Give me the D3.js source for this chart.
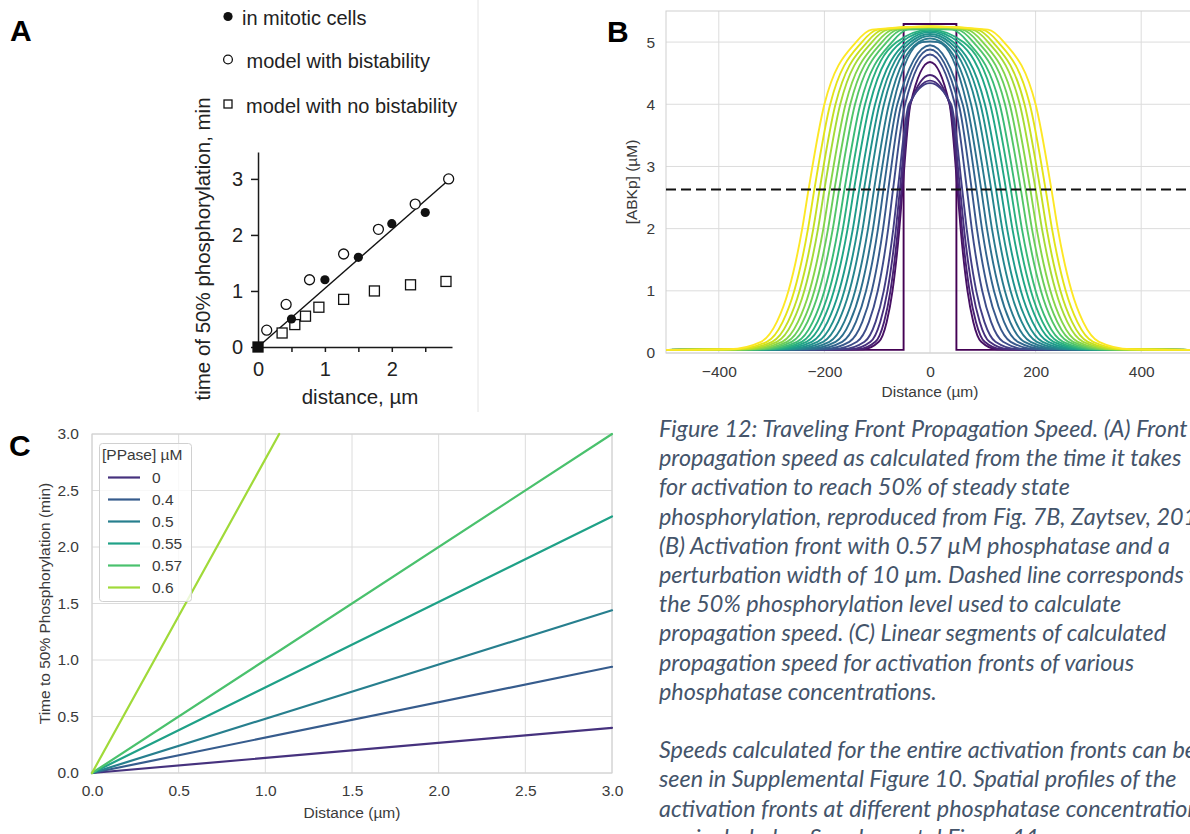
<!DOCTYPE html>
<html lang="en">
<head>
<meta charset="UTF-8" />
<title>Figure 12 - Traveling Front Propagation Speed</title>
<script src="https://d3js.org/d3.v7.min.js"></script>
<style>
  body { margin: 0; background: #fff; }
  svg { display: block; }
</style>
</head>
<body>
<svg id="fig" width="1190" height="834"></svg>
<script>
const mitoticX = [0, 0.5, 1.0, 1.5, 2.0, 2.5];
const mitoticY = [0, 0.5, 1.2, 1.6, 2.2, 2.4];
const bistX = [0.13, 0.42, 0.77, 1.28, 1.8, 2.35, 2.85];
const bistY = [0.3, 0.76, 1.2, 1.66, 2.1, 2.55, 3.0];
const noBistX = [0, 0.36, 0.55, 0.71, 0.91, 1.28, 1.74, 2.28, 2.81];
const noBistY = [0, 0.25, 0.4, 0.55, 0.71, 0.85, 1.0, 1.11, 1.17];
const fitLine = [[0, 0], [2.85, 2.98]];
const aTicksX = [0, 0.5, 1, 1.5, 2, 2.5];
const aTicksY = [0, 1, 2, 3];

// ---------- panel B data ----------
// half-max crossing (µm) and peak height (µM) of each snapshot, inner (purple) to outer (yellow)
const frontCross = [52, 54, 57, 61, 70, 79, 88, 97, 106, 116, 125, 134, 144, 153, 162, 172, 181, 190, 200, 209, 219, 230];
const frontPeak = [4.68, 4.47, 4.38, 4.34, 4.80, 4.88, 4.95, 5.01, 5.06, 5.10, 5.13, 5.16, 5.18, 5.20, 5.21, 5.22, 5.23, 5.24, 5.24, 5.25, 5.25, 5.25];
// early fronts are steeper than the settled one
const frontWidth = [0.5, 0.55, 0.62, 0.7, 0.76, 0.82, 0.87, 0.91, 0.94, 0.96, 0.98, 1, 1, 1, 1, 1, 1, 1, 1, 1, 1, 1];
// shape of the settled front: offset from crossing -> level
const profileOffset = [-120, -90, -30, 0, 12, 38, 60, 90, 150];
const profileLevel = [5.2, 5.0, 4.0, 2.63, 2.0, 1.0, 0.5, 0.18, 0.06];
const baseLevel = 0.05;
const pulseHalfWidth = 50;
const pulseHeight = 5.29;
const halfLevel = 2.63;
const bTicksX = [-400, -200, 0, 200, 400];
const bTicksY = [0, 1, 2, 3, 4, 5];

// ---------- panel C data ----------
const ppaseLabels = ["0", "0.4", "0.5", "0.55", "0.57", "0.6"];
const lineEndX = [3.0, 3.0, 3.0, 3.0, 3.0, 1.08];
const lineEndY = [0.40, 0.94, 1.44, 2.27, 3.0, 3.0];
const cTicks = [0, 0.5, 1, 1.5, 2, 2.5, 3];

const captionLines = [
  "Figure 12: Traveling Front Propagation Speed. (A) Front",
  "propagation speed as calculated from the time it takes",
  "for activation to reach 50% of steady state",
  "phosphorylation, reproduced from Fig. 7B, Zaytsev, 2016.",
  "(B) Activation front with 0.57 \u00b5M phosphatase and a",
  "perturbation width of 10 \u00b5m. Dashed line corresponds to",
  "the 50% phosphorylation level used to calculate",
  "propagation speed. (C) Linear segments of calculated",
  "propagation speed for activation fronts of various",
  "phosphatase concentrations.",
  "",
  "Speeds calculated for the entire activation fronts can be",
  "seen in Supplemental Figure 10. Spatial profiles of the",
  "activation fronts at different phosphatase concentrations",
  "are included as Supplemental Figure 11."
];

const svg = d3.select("#fig");
svg.append("rect").attr("width", 1190).attr("height", 834).attr("fill", "#fff");

const arial = "'Liberation Sans', Arial, sans-serif";
const seaText = "#3a3a3a";
const gridCol = "#dcdcdc";

// =================== PANEL A ===================
const aX = d3.scaleLinear().domain([-0.075, 2.9]).range([253, 452]);
const aY = d3.scaleLinear().domain([0, 3.48]).range([347, 152]);
const gA = svg.append("g").attr("font-family", arial);

gA.append("line").attr("x1", 478).attr("x2", 478).attr("y1", 0).attr("y2", 412)
  .attr("stroke", "#e4e4e4");

function styleAxisA(g) {
  g.attr("font-family", null).attr("font-size", null);
  g.select(".domain").attr("stroke", "#1a1a1a").attr("stroke-width", 1.5);
  g.selectAll(".tick line").attr("stroke", "#1a1a1a").attr("stroke-width", 1.5);
  g.selectAll(".tick text").attr("font-size", 20).attr("fill", "#222");
}

gA.append("g").attr("transform", `translate(0,${aY(0)})`)
  .call(d3.axisBottom(aX).tickValues(aTicksX).tickSize(5).tickSizeOuter(0).tickPadding(10)
    .tickFormat(d => Number.isInteger(d) ? d : ""))
  .call(styleAxisA);

gA.append("g").attr("transform", `translate(${aX(0)},0)`)
  .call(d3.axisLeft(aY).tickValues(aTicksY).tickSize(7).tickSizeOuter(0).tickPadding(8)
    .tickFormat(d3.format("d")))
  .call(styleAxisA);

gA.append("path").datum(fitLine)
  .attr("d", d3.line().x(d => aX(d[0])).y(d => aY(d[1])))
  .attr("stroke", "#111").attr("stroke-width", 1.4).attr("fill", "none");

gA.selectAll(".sq").data(d3.zip(noBistX, noBistY)).join("rect")
  .attr("x", d => aX(d[0]) - 5).attr("y", d => aY(d[1]) - 5)
  .attr("width", 10).attr("height", 10)
  .attr("fill", d => d[0] === 0 ? "#111" : "#fff")
  .attr("stroke", "#111").attr("stroke-width", 1.3);

gA.selectAll(".oc").data(d3.zip(bistX, bistY)).join("circle")
  .attr("cx", d => aX(d[0])).attr("cy", d => aY(d[1])).attr("r", 5)
  .attr("fill", "#fff").attr("stroke", "#111").attr("stroke-width", 1.3);

gA.selectAll(".fc").data(d3.zip(mitoticX, mitoticY)).join("circle")
  .attr("cx", d => aX(d[0])).attr("cy", d => aY(d[1])).attr("r", 4.6)
  .attr("fill", "#111");

// legend A
gA.append("circle").attr("cx", 228).attr("cy", 16.5).attr("r", 4.6).attr("fill", "#111");
gA.append("circle").attr("cx", 228).attr("cy", 59.5).attr("r", 4.4)
  .attr("fill", "#fff").attr("stroke", "#111").attr("stroke-width", 1.3);
gA.append("rect").attr("x", 224).attr("y", 100).attr("width", 8).attr("height", 8)
  .attr("fill", "#fff").attr("stroke", "#111").attr("stroke-width", 1.3);
[["in mitotic cells", 242, 25], ["model with bistability", 246.5, 68], ["model with no bistability", 246, 112.5]]
  .forEach(([t, x, y]) => gA.append("text").attr("x", x).attr("y", y)
    .attr("font-size", 20).attr("fill", "#222").text(t));

gA.append("text").attr("x", 360).attr("y", 404).attr("text-anchor", "middle")
  .attr("font-size", 20.5).attr("fill", "#222").text("distance, \u00b5m");
gA.append("text").attr("transform", "translate(210,249) rotate(-90)")
  .attr("text-anchor", "middle").attr("font-size", 20.5).attr("fill", "#222")
  .text("time of 50% phosphorylation, min");

// =================== PANEL B ===================
const bX = d3.scaleLinear().domain([-500, 500]).range([666, 1194]);
const bY = d3.scaleLinear().domain([0, 5.5]).range([353, 11]);
const gB = svg.append("g").attr("font-family", arial);

gB.selectAll(".vg").data(bTicksX).join("line")
  .attr("x1", d => bX(d)).attr("x2", d => bX(d)).attr("y1", bY(5.5)).attr("y2", bY(0))
  .attr("stroke", gridCol);
gB.selectAll(".hg").data(bTicksY).join("line")
  .attr("x1", bX(-500)).attr("x2", bX(500)).attr("y1", d => bY(d)).attr("y2", d => bY(d))
  .attr("stroke", gridCol);
gB.append("rect").attr("x", bX(-500)).attr("y", bY(5.5))
  .attr("width", bX(500) - bX(-500)).attr("height", bY(0) - bY(5.5))
  .attr("fill", "none").attr("stroke", "#d0d0d0");

function styleSea(g, size) {
  g.attr("font-family", null).attr("font-size", null);
  g.select(".domain").remove();
  g.selectAll(".tick line").remove();
  g.selectAll(".tick text").attr("font-size", size).attr("fill", seaText);
}

gB.append("g").attr("transform", `translate(0,${bY(0)})`)
  .call(d3.axisBottom(bX).tickValues(bTicksX).tickSize(0).tickPadding(13)
    .tickFormat(d3.format("d")))
  .call(g => styleSea(g, 15.5));
gB.append("g").attr("transform", `translate(${bX(-500)},0)`)
  .call(d3.axisLeft(bY).tickValues(bTicksY).tickSize(0).tickPadding(11)
    .tickFormat(d3.format("d")))
  .call(g => styleSea(g, 15.5));

// snapshot curves
const nCurves = frontCross.length + 1;
const bColor = i => d3.interpolateViridis(i / (nCurves - 1));
const pulse = [[-500, baseLevel], [-pulseHalfWidth, baseLevel], [-pulseHalfWidth, pulseHeight],
  [pulseHalfWidth, pulseHeight], [pulseHalfWidth, baseLevel], [500, baseLevel]];

const curves = frontCross.map((c, i) => {
  const right = [];
  profileOffset.forEach((o, k) => {
    const x = c + o * frontWidth[i];
    if (profileLevel[k] < frontPeak[i] - 0.005 && x > 0) right.push([x, profileLevel[k]]);
  });
  const left = right.map(p => [-p[0], p[1]]).reverse();
  return [[-500, baseLevel], ...left, [0, frontPeak[i]], ...right, [500, baseLevel]];
});

gB.append("clipPath").attr("id", "bclip").append("rect")
  .attr("x", bX(-500)).attr("y", bY(5.5)).attr("width", bX(500) - bX(-500)).attr("height", bY(0) - bY(5.5) + 2);

const gCurves = gB.append("g").attr("clip-path", "url(#bclip)");
gCurves.append("path").datum(pulse)
  .attr("d", d3.line().x(d => bX(d[0])).y(d => bY(d[1])))
  .attr("fill", "none").attr("stroke", bColor(0)).attr("stroke-width", 1.9);

const smooth = d3.line().x(d => bX(d[0])).y(d => bY(d[1])).curve(d3.curveMonotoneX);
gCurves.selectAll(".front").data(curves).join("path")
  .attr("d", smooth).attr("fill", "none")
  .attr("stroke", (d, i) => bColor(i + 1)).attr("stroke-width", 1.9);

gCurves.append("line").attr("x1", bX(-500)).attr("x2", bX(500))
  .attr("y1", bY(halfLevel)).attr("y2", bY(halfLevel))
  .attr("stroke", "#111").attr("stroke-width", 2).attr("stroke-dasharray", "10,5");

gB.append("text").attr("x", bX(0)).attr("y", 397).attr("text-anchor", "middle")
  .attr("font-size", 15.5).attr("fill", seaText).text("Distance (\u00b5m)");
gB.append("text").attr("transform", `translate(637,${(bY(0) + bY(5.5)) / 2}) rotate(-90)`)
  .attr("text-anchor", "middle").attr("font-size", 15.5).attr("fill", seaText).text("[ABKp] (\u00b5M)");

// =================== PANEL C ===================
const cX = d3.scaleLinear().domain([0, 3]).range([92, 612]);
const cY = d3.scaleLinear().domain([0, 3]).range([773, 434]);
const gC = svg.append("g").attr("font-family", arial);
const cColor = i => d3.interpolateViridis((i + 1) / (ppaseLabels.length + 1));

gC.selectAll(".vg").data(cTicks).join("line")
  .attr("x1", d => cX(d)).attr("x2", d => cX(d)).attr("y1", cY(3)).attr("y2", cY(0))
  .attr("stroke", gridCol);
gC.selectAll(".hg").data(cTicks).join("line")
  .attr("x1", cX(0)).attr("x2", cX(3)).attr("y1", d => cY(d)).attr("y2", d => cY(d))
  .attr("stroke", gridCol);
gC.append("rect").attr("x", cX(0)).attr("y", cY(3))
  .attr("width", cX(3) - cX(0)).attr("height", cY(0) - cY(3))
  .attr("fill", "none").attr("stroke", "#d0d0d0");

gC.append("g").attr("transform", `translate(0,${cY(0)})`)
  .call(d3.axisBottom(cX).tickValues(cTicks).tickSize(0).tickPadding(12).tickFormat(d3.format(".1f")))
  .call(g => styleSea(g, 15.5));
gC.append("g").attr("transform", `translate(${cX(0)},0)`)
  .call(d3.axisLeft(cY).tickValues(cTicks).tickSize(0).tickPadding(13).tickFormat(d3.format(".1f")))
  .call(g => styleSea(g, 15.5));

gC.selectAll(".sp").data(ppaseLabels).join("line")
  .attr("x1", cX(0)).attr("y1", cY(0))
  .attr("x2", (d, i) => cX(lineEndX[i])).attr("y2", (d, i) => cY(lineEndY[i]))
  .attr("stroke", (d, i) => cColor(i)).attr("stroke-width", 2.2).attr("stroke-linecap", "round");

// legend C
const leg = gC.append("g");
leg.append("rect").attr("x", 99.5).attr("y", 443.5).attr("width", 92).attr("height", 158).attr("rx", 3)
  .attr("fill", "#fff").attr("fill-opacity", 0.8).attr("stroke", "#d0d0d0");
leg.append("text").attr("x", 102).attr("y", 460).attr("font-size", 15.5).attr("fill", seaText)
  .text("[PPase] \u00b5M");
ppaseLabels.forEach((lab, i) => {
  const y = 477.5 + i * 22;
  leg.append("line").attr("x1", 108).attr("x2", 140).attr("y1", y).attr("y2", y)
    .attr("stroke", cColor(i)).attr("stroke-width", 2.2);
  leg.append("text").attr("x", 152).attr("y", y + 5.5).attr("font-size", 15.5)
    .attr("fill", seaText).text(lab);
});

gC.append("text").attr("x", (cX(0) + cX(3)) / 2).attr("y", 818).attr("text-anchor", "middle")
  .attr("font-size", 15.5).attr("fill", seaText).text("Distance (\u00b5m)");
gC.append("text").attr("transform", `translate(50,${(cY(0) + cY(3)) / 2}) rotate(-90)`)
  .attr("text-anchor", "middle").attr("font-size", 15.5).attr("fill", seaText)
  .text("Time to 50% Phosphorylation (min)");

// =================== caption ===================
const cap = svg.append("g").attr("font-family", "Lato, 'Open Sans', sans-serif")
  .attr("font-style", "italic").attr("fill", "#44546a");
const capSize = 20;
const capText = cap.selectAll("text").data(captionLines).join("text")
  .attr("x", 659).attr("y", (d, i) => 437 + i * 29.2)
  .attr("font-size", capSize).text(d => d);
// fit the font size so the third line spans what it does in the figure
const measured = capText.nodes()[2].getComputedTextLength();
capText.attr("font-size", capSize * 411 / measured);

// =================== panel letters ===================
[["A", 10, 41], ["B", 607, 42], ["C", 9, 456]].forEach(([t, x, y]) =>
  svg.append("text").attr("x", x).attr("y", y).attr("font-family", arial)
    .attr("font-weight", "bold").attr("font-size", 30).attr("fill", "#000").text(t));
</script>
</body>
</html>
